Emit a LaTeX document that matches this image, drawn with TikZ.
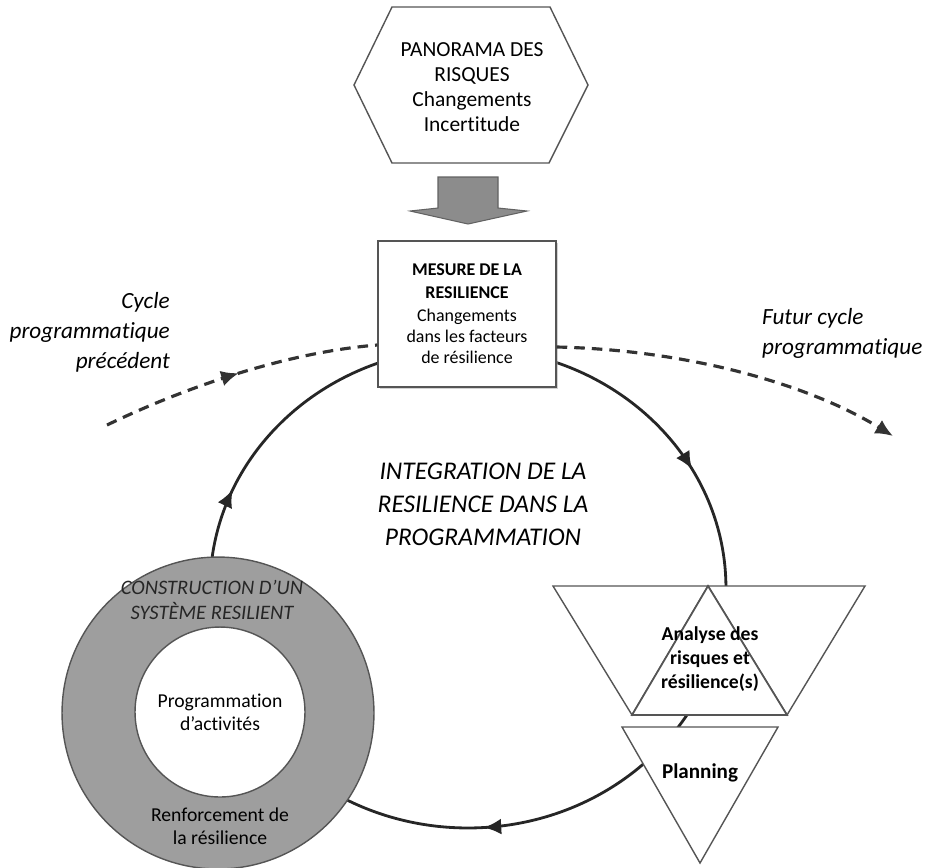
\documentclass[tikz,border=0pt]{standalone}
\usepackage{fontspec}
\setmainfont{Carlito}[Ligatures=NoCommon]
\usetikzlibrary{arrows.meta,decorations.markings,shadows}

\definecolor{ringgray}{RGB}{158,158,158}
\definecolor{arrowgray}{RGB}{140,140,140}
\definecolor{edgegray}{RGB}{85,85,85}

\tikzset{
  cycleline/.style={line width=1.6pt, black!85},
  dashline/.style={line width=1.8pt, black!80, dash pattern=on 6pt off 4pt},
  shapeline/.style={draw=edgegray, line width=0.8pt, fill=white},
  cycletip/.tip={Latex[length=10pt,width=9pt]}
}

\begin{document}
\begin{tikzpicture}[x=0.02cm, y=-0.02cm]
  \useasboundingbox (0,0) rectangle (925,867);

  % Draw the programming cycle
  \draw[cycleline, postaction={decorate}, decoration={markings,
      mark=at position 0.08 with {\arrowreversed{cycletip}},
      mark=at position 0.435 with {\arrowreversed{cycletip}},
      mark=at position 0.76 with {\arrowreversed{cycletip}}}]
    (468,588) ellipse [x radius=5.16cm, y radius=4.8cm];

  % Draw the hexagon
  \draw[shapeline] (354,85) -- (392,7) -- (550,7) -- (588,85) -- (549,163) -- (392,163) -- cycle;
  \node[align=center, font=\fontsize{12.2}{14.3}\selectfont] (panorama) at (472,87)
    {PANORAMA DES\\RISQUES\\Changements\\Incertitude};

  % Draw the gray arrow
  \draw[fill=arrowgray, draw=arrowgray!70!black, line width=0.6pt]
    (438,177) -- (498,177) -- (498,208) -- (527,211) -- (468,224) -- (410,211) -- (438,208) -- cycle;

  % Draw the measurement box
  \node[shapeline, drop shadow={shadow xshift=1.2pt, shadow yshift=-1.2pt, fill=black!35},
        minimum width=3.56cm, minimum height=2.92cm, align=center,
        font=\fontsize{10.2}{12}\selectfont] (mesure) at (467,314)
    {\textbf{MESURE DE LA}\\[1pt]\textbf{RESILIENCE}\\[1pt]Changements\\dans les facteurs\\de résilience};

  % Previous and future cycles
  \draw[dashline, postaction={decorate}, decoration={markings,
      mark=at position 0.5 with {\arrow{cycletip}}}]
    (107,425) .. controls (190,385) and (290,352) .. (mesure.west |- 0,345);
  \draw[dashline, -{cycletip}]
    (mesure.east |- 0,347) .. controls (690,350) and (810,385) .. (893,436);
  \node[align=right, anchor=east, font=\fontsize{13.2}{17}\selectfont\itshape] (precedent) at (176,332)
    {Cycle\\programmatique\\précédent};
  \node[align=left, anchor=west, font=\fontsize{13.2}{17}\selectfont\itshape] (futur) at (756,333)
    {Futur cycle\\programmatique};

  % Centre of the cycle
  \node[align=center, font=\fontsize{14.5}{18.7}\selectfont\itshape] (integration) at (483,504)
    {INTEGRATION DE LA\\RESILIENCE DANS LA\\PROGRAMMATION};

  % Draw the triangles
  \draw[shapeline] (553,586) -- (708,586) -- (632,715) -- cycle;
  \draw[shapeline] (708,586) -- (865,586) -- (787,715) -- cycle;
  \draw[shapeline, line width=1pt] (708,586) -- (787,715) -- (632,715) -- cycle;
  \node[align=center, font=\fontsize{11.2}{13.6}\selectfont\bfseries] (analyse) at (710,659)
    {Analyse des\\risques et\\résilience(s)};
  \draw[shapeline] (622,727) -- (778,727) -- (700,863) -- cycle;
  \node[font=\fontsize{12}{14}\selectfont\bfseries] (planning) at (700,773) {Planning};

  % Draw the ring
  \draw[draw=edgegray, fill=ringgray, line width=0.8pt] (218,713) circle (3.12cm);
  \node[shapeline, circle, minimum size=3.4cm, align=center,
        font=\fontsize{11.2}{13}\selectfont] (activites) at (220,712)
    {Programmation\\d’activités};
  \node[align=center, text=black!85, font=\fontsize{11.7}{14.2}\selectfont\itshape] (construction) at (212,600)
    {CONSTRUCTION D’UN\\SYSTÈME RESILIENT};
  \node[align=center, font=\fontsize{11.2}{13}\selectfont] (renforcement) at (220,826)
    {Renforcement de\\la résilience};

\end{tikzpicture}
\end{document}
